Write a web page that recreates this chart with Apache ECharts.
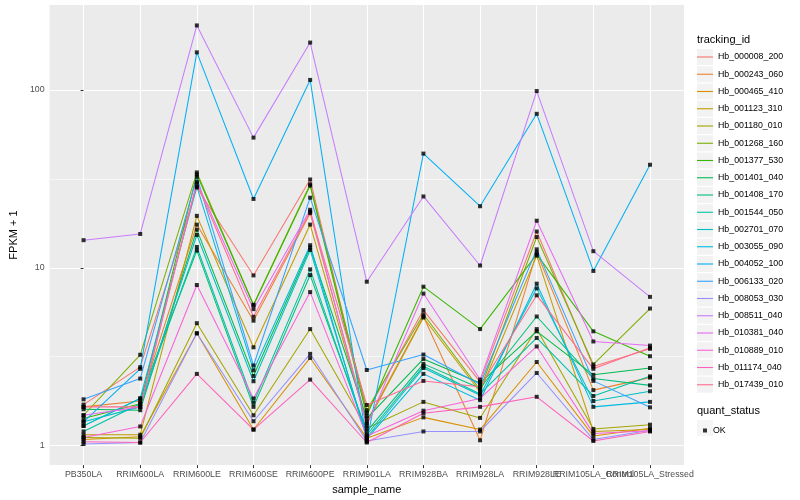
<!DOCTYPE html>
<html><head><meta charset="utf-8">
<script src="https://cdn.jsdelivr.net/npm/echarts@6/dist/echarts.min.js"></script>
<style>html,body{margin:0;padding:0;background:#fff}#c{width:800px;height:500px}</style>
</head><body><div id="c"></div>
<script>
const categories = ['PB350LA','RRIM600LA','RRIM600LE','RRIM600SE','RRIM600PE','RRIM901LA','RRIM928BA','RRIM928LA','RRIM928LE','RRIM105LA_Control','RRIM105LA_Stressed'];
const trackingIds = ['Hb_000008_200','Hb_000243_060','Hb_000465_410','Hb_001123_310','Hb_001180_010','Hb_001268_160','Hb_001377_530','Hb_001401_040','Hb_001408_170','Hb_001544_050','Hb_002701_070','Hb_003055_090','Hb_004052_100','Hb_006133_020','Hb_008053_030','Hb_008511_040','Hb_010381_040','Hb_010889_010','Hb_011174_040','Hb_017439_010'];
const colors = ['#F8766D','#EA8331','#D89000','#C09B00','#A3A500','#7CAE00','#39B600','#00BB4E','#00BF7D','#00C1A3','#00BFC4','#00BAE0','#00B0F6','#35A2FF','#9590FF','#C77CFF','#E76BF3','#FA62DB','#FF62BC','#FF6C91'];

// FPKM + 1 per sample (order of categories)
const hb_000008_200 = [1.70, 2.76, 28.3, 9.06, 31.4, 1.53, 5.78, 2.28, 16.0, 2.78, 3.50];
const hb_000243_060 = [1.65, 1.78, 17.5, 5.04, 20.3, 1.36, 5.32, 1.07, 12.2, 2.05, 2.41];
const hb_000465_410 = [1.08, 1.12, 4.28, 1.23, 3.11, 1.10, 1.44, 1.23, 2.95, 1.13, 1.25];
const hb_001123_310 = [1.15, 1.15, 19.6, 3.57, 17.5, 1.33, 5.25, 2.00, 11.7, 1.20, 1.23];
const hb_001180_010 = [1.11, 1.10, 4.88, 1.48, 4.52, 1.25, 1.76, 1.43, 4.52, 1.24, 1.31];
const hb_001268_160 = [1.48, 3.24, 34.4, 6.20, 29.5, 1.58, 5.48, 2.06, 14.9, 2.86, 5.90];
const hb_001377_530 = [1.42, 1.72, 33.5, 6.15, 29.0, 1.47, 7.83, 4.52, 11.9, 4.39, 3.18];
const hb_001401_040 = [1.60, 1.58, 16.4, 2.46, 13.0, 1.42, 3.07, 2.25, 4.39, 2.50, 2.73];
const hb_001408_170 = [1.29, 1.84, 12.5, 1.65, 9.10, 1.20, 2.88, 2.10, 5.32, 2.38, 2.18];
const hb_001544_050 = [1.20, 1.72, 13.1, 1.74, 9.80, 1.15, 2.79, 1.95, 4.03, 1.90, 2.45];
const hb_002701_070 = [1.36, 1.65, 15.3, 2.30, 12.6, 1.11, 2.73, 1.92, 7.66, 1.78, 2.02];
const hb_003055_090 = [1.29, 1.84, 28.6, 2.65, 13.4, 1.09, 2.53, 1.80, 8.14, 1.65, 1.76];
const hb_004052_100 = [1.36, 2.70, 163, 24.4, 114, 1.05, 43.9, 22.2, 73.5, 9.60, 38.0];
const hb_006133_020 = [1.82, 2.38, 32.5, 2.82, 24.8, 2.66, 3.25, 2.21, 12.7, 2.31, 1.64];
const hb_008053_030 = [1.02, 1.04, 4.28, 1.37, 3.28, 1.06, 1.20, 1.20, 2.56, 1.08, 1.22];
const hb_008511_040 = [14.3, 15.5, 231, 54.0, 185, 8.35, 25.2, 10.3, 98.7, 12.4, 6.86];
const hb_010381_040 = [1.48, 1.65, 30.5, 5.85, 21.2, 1.29, 7.16, 2.35, 18.4, 3.85, 3.65];
const hb_010889_010 = [1.11, 1.28, 8.00, 1.84, 7.30, 1.13, 1.57, 1.84, 3.61, 1.17, 1.21];
const hb_011174_040 = [1.05, 1.04, 2.53, 1.23, 2.35, 1.04, 1.52, 1.65, 1.88, 1.06, 1.20];
const hb_017439_010 = [1.65, 1.65, 29.8, 5.30, 20.7, 1.69, 2.31, 2.14, 7.00, 2.70, 3.55];

const seriesValues = [hb_000008_200, hb_000243_060, hb_000465_410, hb_001123_310, hb_001180_010, hb_001268_160, hb_001377_530, hb_001401_040, hb_001408_170, hb_001544_050, hb_002701_070, hb_003055_090, hb_004052_100, hb_006133_020, hb_008053_030, hb_008511_040, hb_010381_040, hb_010889_010, hb_011174_040, hb_017439_010];
const yTicks = [1, 10, 100];
const yMinor = [3.1623, 31.623];
const quantStatus = ['OK'];

const FONT = 'Liberation Sans';
const xIdx = categories.map((c, i) => i);
const X_MIN = -0.6, X_MAX = categories.length - 1 + 0.6;
// label slots: empty slots at the panel edges so that no real label is treated as min/max
const xLabelSlots = [X_MIN].concat(xIdx, [X_MAX]);

const lineSeries = trackingIds.map((id, k) => ({
  name: id,
  type: 'line',
  data: seriesValues[k].map((v, i) => [i, v]),
  showSymbol: false,
  symbol: 'none',
  color: colors[k],
  lineStyle: { color: colors[k], width: 1.05 },
  emphasis: { disabled: true },
  silent: true,
  z: 2,
  markLine: k === 0 ? {
    silent: true, symbol: 'none', z: 1, animation: false,
    label: { show: false },
    lineStyle: { color: '#ffffff', width: 0.6, type: 'solid' },
    emphasis: { disabled: true },
    data: yMinor.map(v => ({ yAxis: v }))
  } : undefined
}));

const pointData = [];
seriesValues.forEach(arr => arr.forEach((v, i) => pointData.push([i, v])));

const pointSeries = {
  name: quantStatus[0],
  type: 'scatter',
  data: pointData,
  symbol: 'rect',
  symbolSize: 4,
  itemStyle: { color: '#000000' },
  silent: true,
  z: 3
};

const legendCommon = {
  orient: 'vertical', left: 697, itemWidth: 16, itemHeight: 16, itemGap: 1.25,
  selectedMode: false, padding: 0
};

const option = {
  animation: false,
  backgroundColor: '#ffffff',
  textStyle: { fontFamily: FONT },
  title: [
    { text: 'tracking_id', left: 697, top: 34, padding: 0, textStyle: { fontSize: 11, fontWeight: 'normal', color: '#000', fontFamily: FONT } },
    { text: 'quant_status', left: 697, top: 405, padding: 0, textStyle: { fontSize: 11, fontWeight: 'normal', color: '#000', fontFamily: FONT } }
  ],
  grid: { left: 40, right: 116, top: 5, bottom: 32, show: true, backgroundColor: '#EBEBEB', borderWidth: 0, containLabel: false },
  legend: [
    Object.assign({}, legendCommon, { top: 49, data: trackingIds, icon: 'rect', itemStyle: { color: '#F2F2F2' }, formatter: () => '', z: 1 }),
    Object.assign({}, legendCommon, { top: 49, data: trackingIds, icon: 'path://M0,0 L16,0 L16,1.1 L0,1.1 Z',
      textStyle: { fontSize: 8.8, color: '#000', fontFamily: FONT, lineHeight: 16, height: 16 }, z: 2 }),
    Object.assign({}, legendCommon, { top: 420, data: quantStatus, icon: 'rect', itemStyle: { color: '#F2F2F2' }, formatter: () => '', z: 1 }),
    Object.assign({}, legendCommon, { left: 703, top: 426, itemWidth: 4, itemHeight: 4, data: quantStatus, icon: 'rect',
      textStyle: { fontSize: 8.8, color: '#000', fontFamily: FONT, padding: [0, 0, 0, 1] }, z: 2 })
  ],
  xAxis: {
    type: 'value', min: X_MIN, max: X_MAX, splitNumber: 11,
    name: 'sample_name', nameLocation: 'middle', nameGap: 18,
    nameTextStyle: { fontSize: 11, color: '#000', fontFamily: FONT },
    axisLine: { show: false },
    axisTick: { show: true, length: 3, lineStyle: { color: '#333333', width: 1 }, customValues: xIdx },
    axisLabel: { customValues: xLabelSlots, margin: 5, fontSize: 8.8, color: '#4D4D4D', fontFamily: FONT, hideOverlap: false,
      formatter: v => { const i = Math.round(v); return Math.abs(v - i) < 1e-6 && categories[i] ? categories[i] : ''; } },
    splitLine: { show: true, lineStyle: { color: '#ffffff', width: 1.1 } }
  },
  yAxis: {
    type: 'log', logBase: 10, min: 0.776, max: 301,
    name: 'FPKM + 1', nameLocation: 'middle', nameGap: 26, nameRotate: 90,
    nameTextStyle: { fontSize: 11, color: '#000', fontFamily: FONT },
    axisLine: { show: false },
    axisTick: { show: true, length: 3, lineStyle: { color: '#333333', width: 1 }, customValues: yTicks },
    axisLabel: { customValues: yTicks, margin: 5, fontSize: 8.8, color: '#4D4D4D', fontFamily: FONT,
      showMinLabel: true, showMaxLabel: true,
      formatter: v => { const l = Math.log10(v); return Math.abs(l - Math.round(l)) < 1e-6 ? String(Math.round(v)) : ''; } },
    splitLine: { show: true, lineStyle: { color: '#ffffff', width: 1.1 } },
    minorSplitLine: { show: false }
  },
  series: lineSeries.concat([pointSeries])
};

const chart = echarts.init(document.getElementById('c'), null, { renderer: 'canvas' });
chart.setOption(option);
</script>
</body></html>
